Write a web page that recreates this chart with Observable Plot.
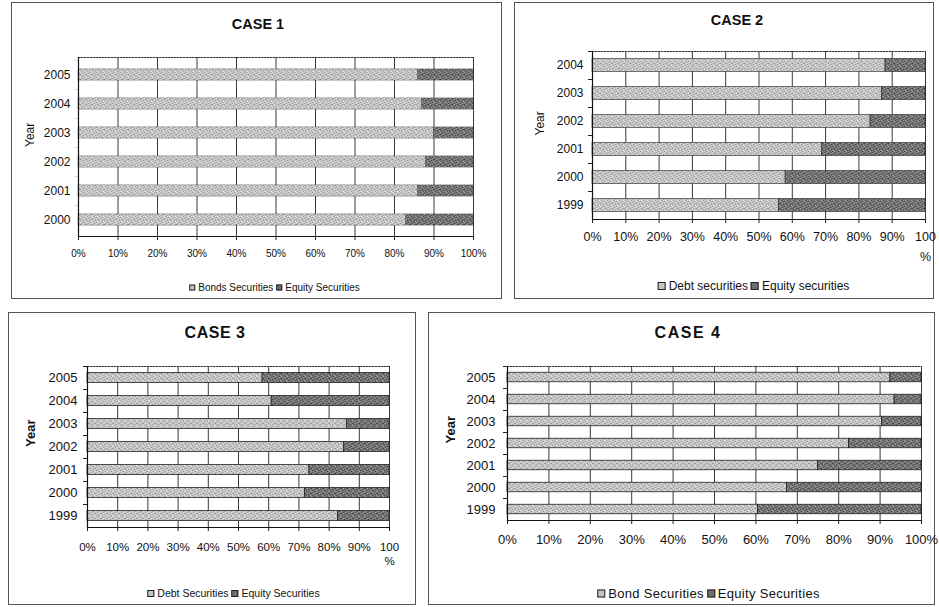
<!DOCTYPE html>
<html>
<head>
<meta charset="utf-8">
<script src="https://cdn.jsdelivr.net/npm/d3@7"></script>
<script src="https://cdn.jsdelivr.net/npm/@observablehq/plot@0.6"></script>
<style>
  body { margin: 0; background: #fff; font-family: "Liberation Sans", Arial, sans-serif; color: #111; }
  #page { position: relative; width: 939px; height: 607px; overflow: hidden; background: #fff; }
  .panel { position: absolute; border: 1px solid #555; box-sizing: border-box; }
  .title { position: absolute; font-weight: bold; white-space: nowrap; transform: translate(-50%, -50%); }
  .legend { position: absolute; white-space: nowrap; transform: translate(-50%, -50%); display: flex; align-items: center; }
  .legend .sw { display: inline-block; border: 1px solid #222; box-sizing: border-box; margin-right: 3px; }
  .legend .item { display: inline-flex; align-items: center; margin-right: 3px; }
  .chart { position: absolute; }
</style>
</head>
<body>
<svg width="0" height="0" style="position:absolute">
  <defs>
    <!-- grainy fills for the two security types -->
    <pattern id="stipLight" width="6" height="5" patternUnits="userSpaceOnUse">
      <rect width="6" height="5" fill="#c6c6c6"/>
      <rect x="0" y="0" width="1" height="1" fill="#8e8e8e"/>
      <rect x="3" y="1" width="1" height="1" fill="#9a9a9a"/>
      <rect x="1" y="2" width="1" height="1" fill="#a4a4a4"/>
      <rect x="4" y="3" width="1" height="1" fill="#909090"/>
      <rect x="5" y="0" width="1" height="1" fill="#a8a8a8"/>
      <rect x="2" y="4" width="1" height="1" fill="#9c9c9c"/>
      <rect x="2" y="0" width="1" height="1" fill="#e4e4e4"/>
      <rect x="5" y="2" width="1" height="1" fill="#e8e8e8"/>
      <rect x="0" y="3" width="1" height="1" fill="#e0e0e0"/>
      <rect x="4" y="4" width="1" height="1" fill="#dedede"/>
    </pattern>
    <pattern id="stipDark" width="6" height="5" patternUnits="userSpaceOnUse">
      <rect width="6" height="5" fill="#767676"/>
      <rect x="0" y="0" width="1" height="1" fill="#3e3e3e"/>
      <rect x="3" y="1" width="1" height="1" fill="#484848"/>
      <rect x="1" y="2" width="1" height="1" fill="#505050"/>
      <rect x="4" y="3" width="1" height="1" fill="#424242"/>
      <rect x="5" y="0" width="1" height="1" fill="#555555"/>
      <rect x="2" y="4" width="1" height="1" fill="#4a4a4a"/>
      <rect x="2" y="0" width="1" height="1" fill="#a6a6a6"/>
      <rect x="5" y="2" width="1" height="1" fill="#9e9e9e"/>
      <rect x="0" y="3" width="1" height="1" fill="#a2a2a2"/>
      <rect x="4" y="4" width="1" height="1" fill="#989898"/>
    </pattern>
  </defs>
</svg>
<div id="page"></div>
<script>
// ---- data: share of bond/debt securities in each portfolio (percent) ----
const case1Years = [2005, 2004, 2003, 2002, 2001, 2000];
const case1Bonds = [86, 87, 90, 88, 86, 83];
const case1Series = ["Bonds Securities", "Equity Securities"];

const case2Years = [2004, 2003, 2002, 2001, 2000, 1999];
const case2Bonds = [88, 87, 83.5, 69, 58, 56];
const case2Series = ["Debt securities", "Equity securities"];

const case3Years = [2005, 2004, 2003, 2002, 2001, 2000, 1999];
const case3Bonds = [58, 61, 86, 85, 73.5, 72, 83];
const case3Series = ["Debt Securities", "Equity Securities"];

const case4Years = [2005, 2004, 2003, 2002, 2001, 2000, 1999];
const case4Bonds = [92.5, 93.5, 90.5, 82.5, 75, 67.5, 60.5];
const case4Series = ["Bond Securities", "Equity Securities"];

const caseTitles = ["CASE 1", "CASE 2", "CASE 3", "CASE 4"];
const percentTicks = [0, 10, 20, 30, 40, 50, 60, 70, 80, 90, 100];
const axisTitle = "Year";

// ---- layout of the four panels on the page ----
const panels = [
  { years: case1Years, bonds: case1Bonds, series: case1Series, title: caseTitles[0],
    box: [11, 2, 502, 299], plot: [78, 473, 57, 236], barH: 12,
    titleAt: [258, 24], titleSize: 14.5, titleSpacing: 0,
    legendAt: [276, 287], legendSize: 10, swatch: 6,
    tickSize: 10, tickPad: 9, yearSize: 12, yearPad: 8, yearX: 30, yearBold: false,
    wrap100: false, lineHeight: 1, letter: 0, barStroke: 0.3 },
  { years: case2Years, bonds: case2Bonds, series: case2Series, title: caseTitles[1],
    box: [514, 2, 934, 299], plot: [592, 925, 51, 219], barH: 13,
    titleAt: [737, 20], titleSize: 14.5, titleSpacing: 0,
    legendAt: [755, 286], legendSize: 12, swatch: 8,
    tickSize: 12.5, tickPad: 3, yearSize: 12, yearPad: 9, yearX: 540, yearBold: false,
    wrap100: true, lineHeight: 1.6, letter: 0, barStroke: 0.6 },
  { years: case3Years, bonds: case3Bonds, series: case3Series, title: caseTitles[2],
    box: [8, 312, 416, 605], plot: [87, 389, 366, 527], barH: 10,
    titleAt: [215, 333], titleSize: 16, titleSpacing: 0.5,
    legendAt: [235, 593], legendSize: 10.5, swatch: 7,
    tickSize: 11.5, tickPad: 9, yearSize: 13, yearPad: 10, yearX: 30, yearBold: true,
    wrap100: true, lineHeight: 1.25, letter: 0, barStroke: 0.8 },
  { years: case4Years, bonds: case4Bonds, series: case4Series, title: caseTitles[3],
    box: [428, 312, 935, 605], plot: [507, 921, 366, 520], barH: 9.5,
    titleAt: [688, 333], titleSize: 16, titleSpacing: 1.5,
    legendAt: [710, 593], legendSize: 13, swatch: 8,
    tickSize: 13, tickPad: 10, yearSize: 13, yearPad: 12, yearX: 450, yearBold: true,
    wrap100: false, lineHeight: 1, letter: 0.6, barStroke: 0.8 }
];

const page = document.getElementById("page");
const fills = ["url(#stipLight)", "url(#stipDark)"];

for (const p of panels) {
  const [bl, bt, br, bb] = p.box;
  const box = document.createElement("div");
  box.className = "panel";
  Object.assign(box.style, { left: bl + "px", top: bt + "px", width: (br - bl) + "px", height: (bb - bt) + "px" });
  page.appendChild(box);

  // title
  const t = document.createElement("div");
  t.className = "title";
  t.textContent = p.title;
  Object.assign(t.style, { left: p.titleAt[0] + "px", top: p.titleAt[1] + "px", fontSize: p.titleSize + "px", letterSpacing: p.titleSpacing + "px" });
  page.appendChild(t);

  // chart
  const [L, R, T, B] = p.plot;
  const mL = 70, mR = 24, mT = 8, mB = 48;
  const rows = p.years.map((year, i) => ({ year: String(year), bond: p.bonds[i] }));
  const step = (B - T) / rows.length;
  const inset = (step - p.barH) / 2;
  const pctPerPx = 100 / (R - L);
  const fmt = d => (d === 100 && p.wrap100) ? "100\n%" : d + "%";

  const chart = Plot.plot({
    width: R - L + mL + mR,
    height: B - T + mT + mB,
    marginLeft: mL, marginRight: mR, marginTop: mT, marginBottom: mB,
    style: { fontFamily: "'Liberation Sans', Arial, sans-serif", color: "#111", background: "transparent", overflow: "visible" },
    x: { domain: [0, 100], label: null },
    y: { type: "band", domain: rows.map(d => d.year), padding: 0, label: null },
    marks: [
      Plot.gridX(percentTicks, { stroke: "#3a3a3a", strokeOpacity: 1, strokeWidth: 1 }),
      Plot.frame({ anchor: "top", stroke: "#333", strokeDasharray: "1.5,1.5" }),
      Plot.barX(rows, { y: "year", x1: 0, x2: "bond", fill: fills[0], insetTop: inset, insetBottom: inset,
        stroke: "#222", strokeWidth: p.barStroke }),
      Plot.barX(rows, { y: "year", x1: "bond", x2: 100, fill: fills[1], insetTop: inset, insetBottom: inset,
        stroke: "#222", strokeWidth: p.barStroke }),
      // category tick marks on the boundaries between years
      Plot.barX(rows, { y: "year", x1: -4 * pctPerPx, x2: 0, insetBottom: step - 1, fill: "#222" }),
      Plot.frame({ anchor: "left", stroke: "#111", strokeWidth: 1.2 }),
      Plot.frame({ anchor: "bottom", stroke: "#111", strokeWidth: 1.2 }),
      Plot.axisY({ tickSize: 0, tickPadding: p.yearPad, fontSize: p.yearSize }),
      Plot.axisX(percentTicks, { tickSize: 4, tickPadding: p.tickPad, fontSize: p.tickSize,
        tickFormat: fmt, lineHeight: p.lineHeight, stroke: "#222", letterSpacing: p.letter }),
      Plot.text([axisTitle], { frameAnchor: "left", dx: -(L - p.yearX), rotate: -90, text: d => d,
        fontSize: p.yearSize, fontWeight: p.yearBold ? "bold" : "normal" })
    ]
  });
  chart.classList.add("chart");
  Object.assign(chart.style, { left: (L - mL) + "px", top: (T - mT) + "px" });
  page.appendChild(chart);

  // legend
  const lg = document.createElement("div");
  lg.className = "legend";
  Object.assign(lg.style, { left: p.legendAt[0] + "px", top: p.legendAt[1] + "px", fontSize: p.legendSize + "px", letterSpacing: (p.letter / 2) + "px" });
  p.series.forEach((name, i) => {
    const item = document.createElement("span");
    item.className = "item";
    const sw = document.createElement("span");
    sw.className = "sw";
    Object.assign(sw.style, { width: p.swatch + "px", height: p.swatch + "px", background: i === 0 ? "#c4c4c4" : "#6e6e6e" });
    const tx = document.createElement("span");
    tx.textContent = name;
    item.appendChild(sw);
    item.appendChild(tx);
    lg.appendChild(item);
  });
  page.appendChild(lg);
}
</script>
</body>
</html>
